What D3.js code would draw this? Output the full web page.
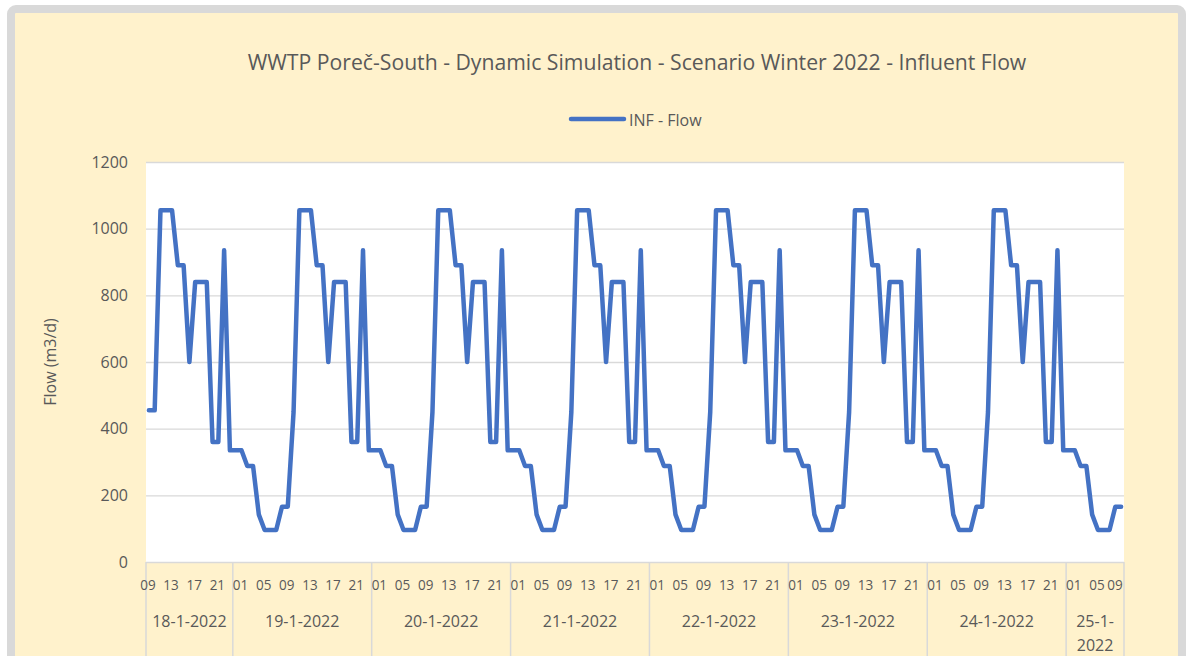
<!DOCTYPE html>
<html>
<head>
<meta charset="utf-8">
<script src="https://cdn.jsdelivr.net/npm/d3@7"></script>
<style>
  html, body { margin: 0; padding: 0; background: #ffffff; }
  svg { display: block; }
  text { font-family: "Open Sans", "Liberation Sans", sans-serif; fill: #595959; }
</style>
</head>
<body>
<svg id="chart" width="1192" height="656"></svg>
<script>
// ---------------- DATA ----------------
const title = "WWTP Poreč-South - Dynamic Simulation - Scenario Winter 2022 - Influent Flow";
const seriesName = "INF - Flow";
const yAxisTitle = "Flow (m3/d)";
const yTicks = [0, 200, 400, 600, 800, 1000, 1200];

// day groups (second level of the category axis)
const dayLabels = ["18-1-2022", "19-1-2022", "20-1-2022", "21-1-2022", "22-1-2022", "23-1-2022", "24-1-2022", "25-1-2022"];
// hours present for each day (first level of the category axis)
const hours_18 = ["09","10","11","12","13","14","15","16","17","18","19","20","21","22","23"];
const hours_full = ["00","01","02","03","04","05","06","07","08","09","10","11","12","13","14","15","16","17","18","19","20","21","22","23"];
const hours_25 = ["00","01","02","03","04","05","06","07","08","09"];

// influent flow values (m3/d), hourly
const flow_18 = [455, 455, 1055, 1055, 1055, 890, 890, 600, 840, 840, 840, 360, 360, 935, 335];
const flow_19 = [335, 335, 288, 288, 142, 96, 96, 96, 166, 166, 450, 1055, 1055, 1055, 890, 890, 600, 840, 840, 840, 360, 360, 935, 335];
const flow_20 = [335, 335, 288, 288, 142, 96, 96, 96, 166, 166, 450, 1055, 1055, 1055, 890, 890, 600, 840, 840, 840, 360, 360, 935, 335];
const flow_21 = [335, 335, 288, 288, 142, 96, 96, 96, 166, 166, 450, 1055, 1055, 1055, 890, 890, 600, 840, 840, 840, 360, 360, 935, 335];
const flow_22 = [335, 335, 288, 288, 142, 96, 96, 96, 166, 166, 450, 1055, 1055, 1055, 890, 890, 600, 840, 840, 840, 360, 360, 935, 335];
const flow_23 = [335, 335, 288, 288, 142, 96, 96, 96, 166, 166, 450, 1055, 1055, 1055, 890, 890, 600, 840, 840, 840, 360, 360, 935, 335];
const flow_24 = [335, 335, 288, 288, 142, 96, 96, 96, 166, 166, 450, 1055, 1055, 1055, 890, 890, 600, 840, 840, 840, 360, 360, 935, 335];
const flow_25 = [335, 335, 288, 288, 142, 96, 96, 96, 166, 166];

// ---------------- BUILD TABLE ----------------
const dayHours = [hours_18, hours_full, hours_full, hours_full, hours_full, hours_full, hours_full, hours_25];
const dayFlows = [flow_18, flow_19, flow_20, flow_21, flow_22, flow_23, flow_24, flow_25];
const points = [];
const groups = [];
dayLabels.forEach((lab, di) => {
  const start = points.length;
  dayHours[di].forEach((h, hi) => {
    points.push({ i: points.length, day: lab, hour: h, value: dayFlows[di][hi] });
  });
  groups.push({ label: lab, start: start, end: points.length });
});

// ---------------- LAYOUT ----------------
const svg = d3.select("#chart");
const plot = { left: 146, right: 1124, top: 162, bottom: 562 };
const textColor = "#595959";
const gridColor = "#d9d9d9";
const lineColor = "#4472C4";

// frame + background
svg.append("rect")
  .attr("x", 11).attr("y", 9).attr("width", 1171).attr("height", 720)
  .attr("rx", 5).attr("ry", 5)
  .attr("fill", "#fff2cc").attr("stroke", "#d9d9d9").attr("stroke-width", 8);

// plot area
svg.append("rect")
  .attr("x", plot.left).attr("y", plot.top)
  .attr("width", plot.right - plot.left).attr("height", plot.bottom - plot.top)
  .attr("fill", "#ffffff");

const x = d3.scaleBand().domain(points.map(d => d.i)).range([plot.left, plot.right]).padding(0);
const cx = i => x(i) + x.bandwidth() / 2;
const y = d3.scaleLinear().domain([0, 1200]).range([plot.bottom, plot.top]);

// gridlines
const grid = svg.append("g")
  .attr("transform", `translate(${plot.left},0)`)
  .call(d3.axisLeft(y).tickValues(yTicks).tickSize(-(plot.right - plot.left)).tickFormat(""));
grid.select(".domain").remove();
grid.selectAll("line").attr("stroke", gridColor).attr("stroke-width", 1.3);

// y axis labels
const yAxis = svg.append("g")
  .attr("transform", `translate(${plot.left},0)`)
  .attr("font-size", 16).attr("font-family", "Open Sans")
  .call(d3.axisLeft(y).tickValues(yTicks).tickFormat(d3.format("d")).tickSize(0).tickPadding(18));
yAxis.select(".domain").remove();
yAxis.selectAll("text")
  .style("font-family", "'Open Sans', sans-serif")
  .style("font-size", "16px").attr("fill", textColor);

// y axis title
svg.append("text")
  .attr("transform", `translate(56,${(plot.top + plot.bottom) / 2}) rotate(-90)`)
  .attr("text-anchor", "middle")
  .style("font-size", "16px")
  .text(yAxisTitle);

// x axis separators (multi-level category axis)
const sepX = [plot.left].concat(groups.map(g => g.end === points.length ? plot.right : x(g.end)));
svg.append("g").selectAll("line").data(sepX).join("line")
  .attr("x1", d => d).attr("x2", d => d)
  .attr("y1", plot.bottom).attr("y2", 700)
  .attr("stroke", gridColor).attr("stroke-width", 1.5);

// hour labels (slightly condensed)
const squeeze = 0.9;
const xAxis = svg.append("g")
  .attr("transform", `translate(0,${plot.bottom})`)
  .call(d3.axisBottom(x)
    .tickValues(points.filter(d => d.i % 4 === 0).map(d => d.i))
    .tickFormat(i => points[i].hour)
    .tickSize(0).tickPadding(17));
xAxis.attr("font-size", null).attr("font-family", null);
xAxis.select(".domain").remove();
xAxis.selectAll("text")
  .attr("font-family", "Open Sans")
  .attr("font-size", 15)
  .style("font-family", "'Open Sans', sans-serif")
  .style("font-size", "15px").attr("fill", textColor)
  .attr("transform", `scale(${squeeze},1)`)
  .attr("x", -1 / squeeze);
xAxis.selectAll(".tick").each(function () {
  const t = d3.select(this).attr("transform");
  const tx = +t.match(/translate\(([-\d.]+)/)[1];
  const txt = d3.select(this).select("text");
  const w = txt.node().getComputedTextLength() * squeeze;
  const right = tx - 1 + w / 2;
  const limit = plot.right - 1.3;
  if (right > limit) {
    txt.attr("x", (-1 - (right - limit)) / squeeze);
  }
});

// day labels
const dayG = svg.append("g");
groups.forEach(g => {
  const x0 = g.start === 0 ? plot.left : x(g.start);
  const x1 = g.end === points.length ? plot.right : x(g.end);
  const mid = (x0 + x1) / 2;
  const t = dayG.append("text")
    .attr("x", mid).attr("y", 627)
    .attr("text-anchor", "middle")
    .style("font-size", "16px")
    .text(g.label);
  if (t.node().getComputedTextLength() > (x1 - x0) - 4) {
    const cut = g.label.lastIndexOf("-") + 1;
    t.text(null);
    t.append("tspan").attr("x", mid).attr("y", 627).text(g.label.slice(0, cut));
    t.append("tspan").attr("x", mid).attr("y", 651).text(g.label.slice(cut));
  }
});

// series line
svg.append("path")
  .datum(points)
  .attr("fill", "none")
  .attr("stroke", lineColor)
  .attr("stroke-width", 4.5)
  .attr("stroke-linejoin", "round")
  .attr("stroke-linecap", "round")
  .attr("d", d3.line().x(d => cx(d.i)).y(d => y(d.value)));

// title
const tt = svg.append("text")
  .attr("x", 637).attr("y", 69.5)
  .attr("text-anchor", "middle")
  .style("font-size", "21px")
  .text(title);
const tw = tt.node().getComputedTextLength();
tt.style("font-size", (21 * 779 / tw).toFixed(2) + "px");

// legend
svg.append("line")
  .attr("x1", 571).attr("x2", 624).attr("y1", 119).attr("y2", 119)
  .attr("stroke", lineColor).attr("stroke-width", 4.5).attr("stroke-linecap", "round");
svg.append("text")
  .attr("x", 629).attr("y", 125.5)
  .style("font-size", "16px")
  .text(seriesName);
</script>
</body>
</html>
